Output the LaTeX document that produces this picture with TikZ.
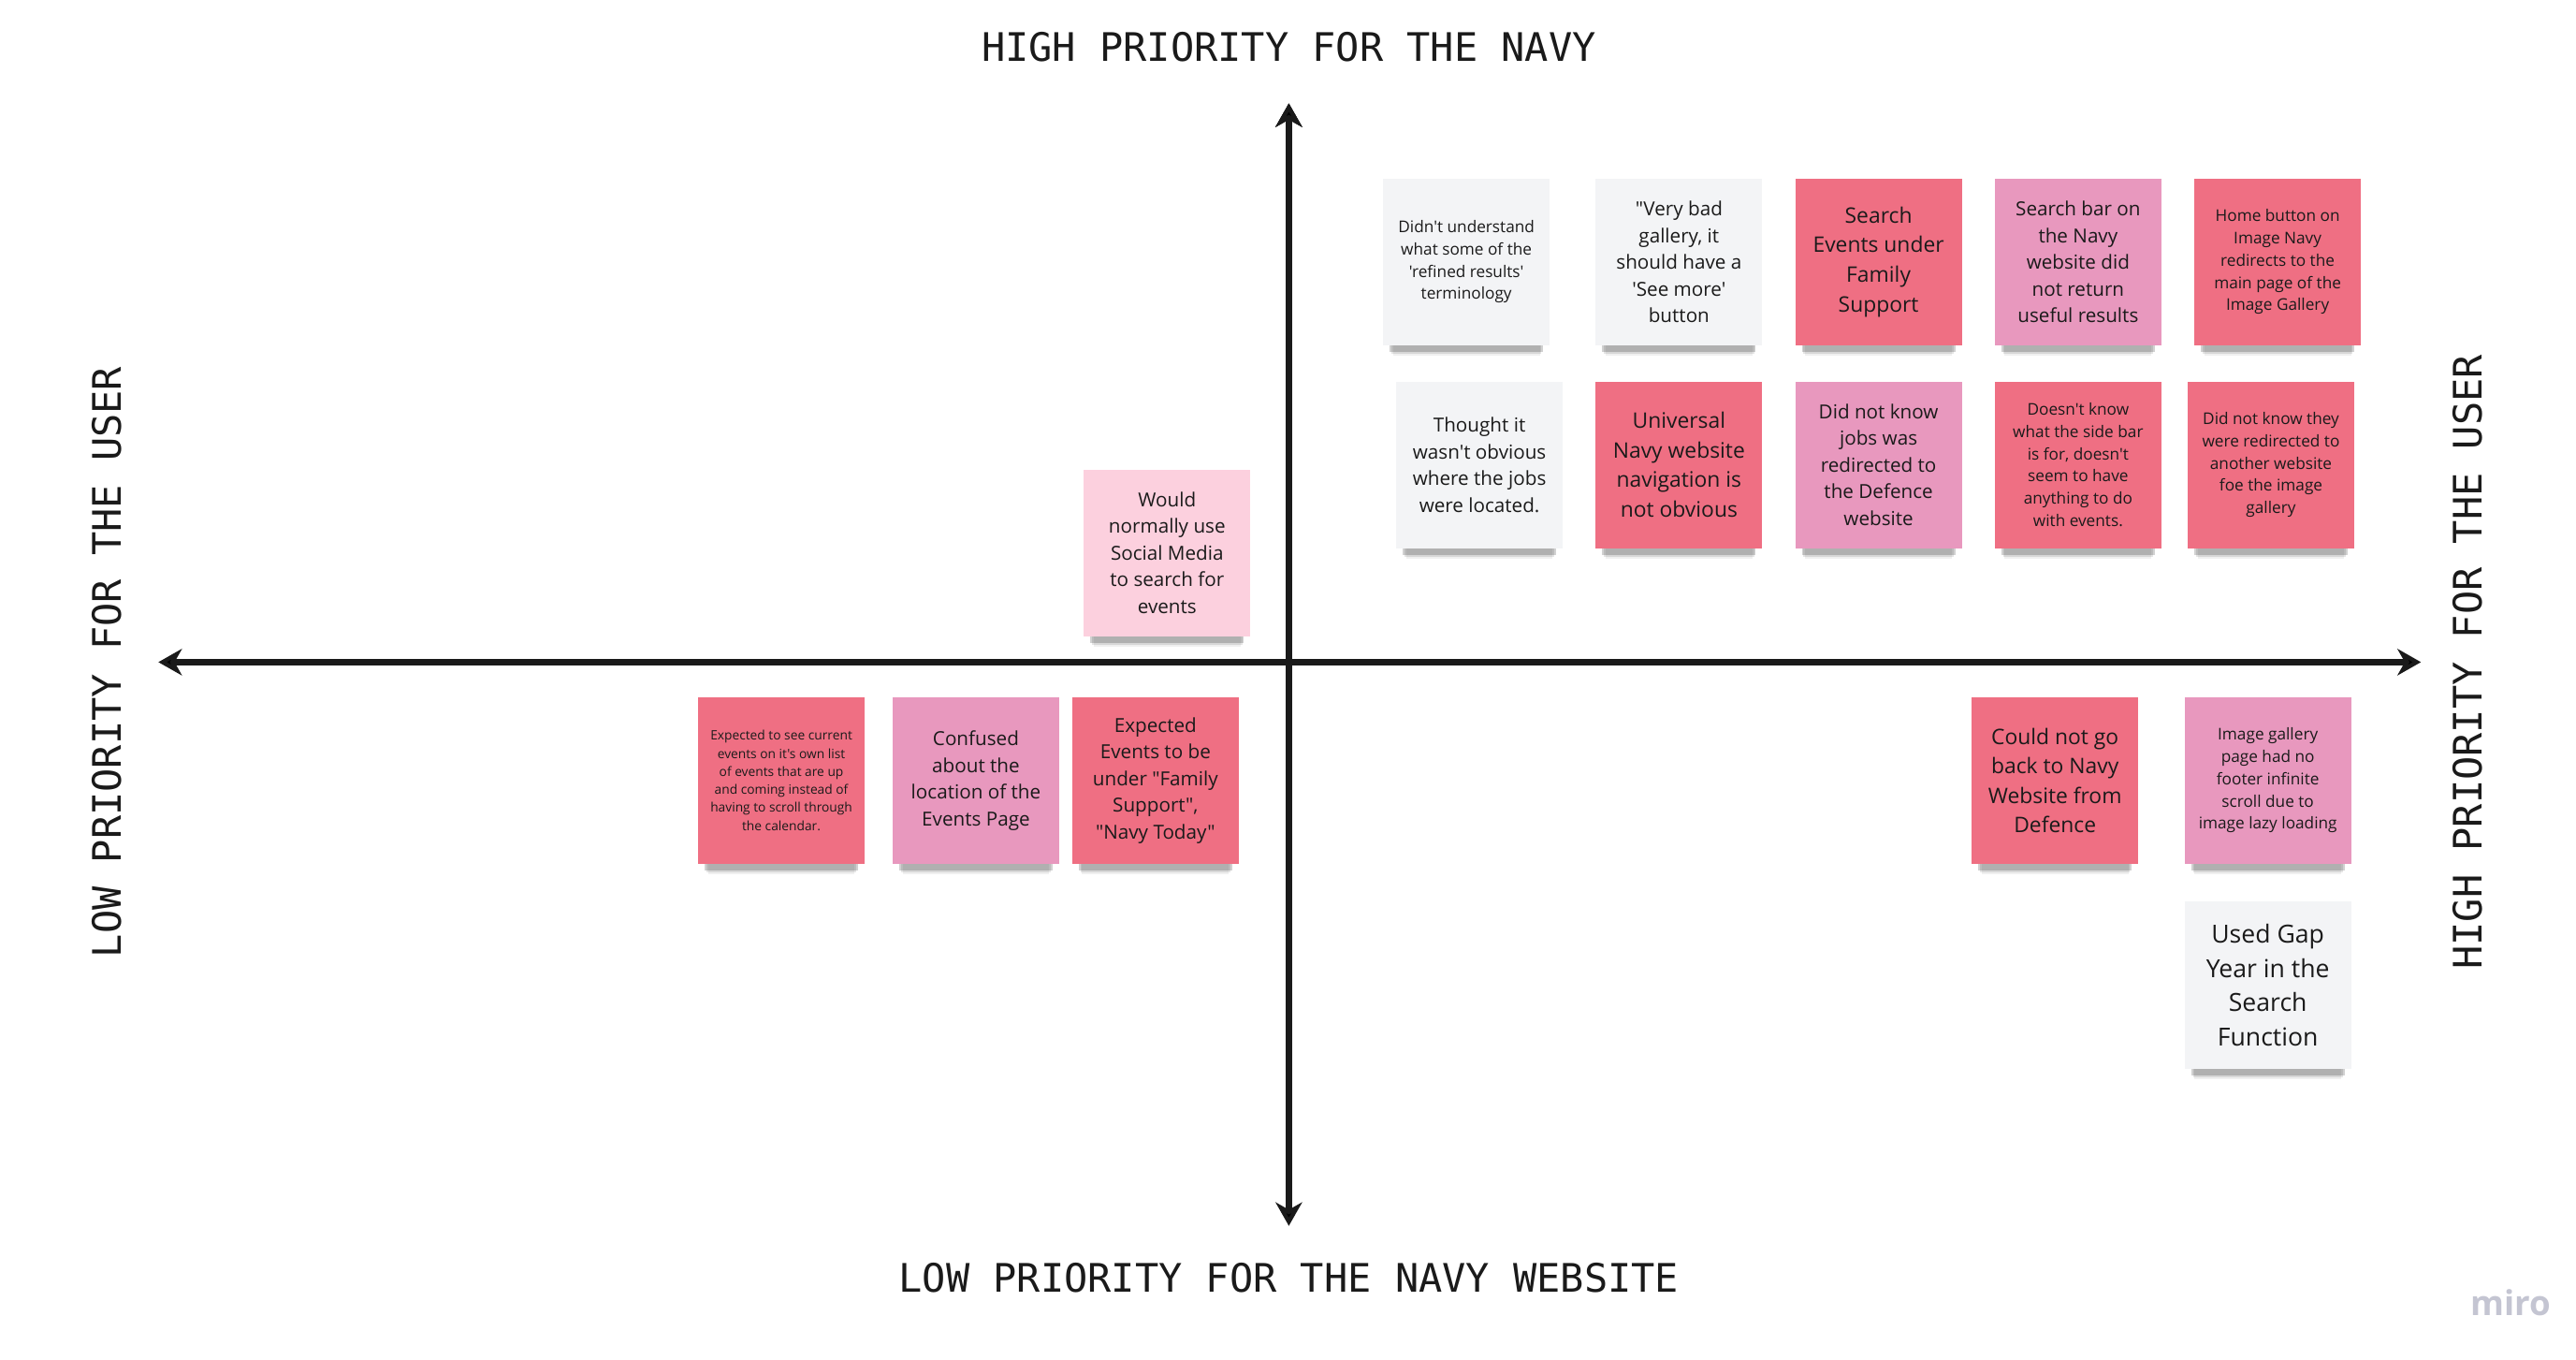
\documentclass[tikz,border=0pt]{standalone}
\usepackage{fontspec}
\setmainfont{Open Sans}[Ligatures=TeXOff]
\newfontfamily\axisfont{DejaVu Sans Mono}
\usetikzlibrary{arrows.meta,positioning,shadows}

\definecolor{ink}{RGB}{26,26,26}
\definecolor{hotnote}{RGB}{239,111,131}
\definecolor{rosenote}{RGB}{232,152,190}
\definecolor{blushnote}{RGB}{252,208,222}
\definecolor{blanknote}{RGB}{243,244,246}
\definecolor{mirogray}{RGB}{196,197,210}

\tikzset{
  note/.style={rectangle, minimum width=2cm, minimum height=2cm, inner sep=1pt,
    align=center, text=ink,
    drop shadow={shadow xshift=0pt, shadow yshift=-8pt, shadow scale=0.88, opacity=0.06, fill=black},
    drop shadow={shadow xshift=0pt, shadow yshift=-6.5pt, shadow scale=0.9, opacity=0.1, fill=black},
    drop shadow={shadow xshift=0pt, shadow yshift=-5pt, shadow scale=0.92, opacity=0.18, fill=black}},
  hot/.style={note, fill=hotnote},
  rose/.style={note, fill=rosenote},
  blush/.style={note, fill=blushnote},
  blank/.style={note, fill=blanknote},
  fsXL/.style={font=\fontsize{8.5}{11.8}\selectfont},
  fsL/.style={font=\fontsize{7.3}{10.1}\selectfont},
  fsM/.style={font=\fontsize{6.6}{9.1}\selectfont},
  fsS/.style={font=\fontsize{5.5}{7.6}\selectfont},
  fsXS/.style={font=\fontsize{4.4}{6.15}\selectfont},
  axislabel/.style={font=\axisfont\fontsize{13.4}{16}\selectfont, text=ink},
  axisline/.style={line width=2.4pt, draw=ink}
}

\begin{document}
\begin{tikzpicture}[x=0.02cm, y=-0.02cm, >={Stealth[length=8pt,width=9pt,inset=2.5pt]}, node distance=0.38cm]
  \useasboundingbox[fill=white] (0,0) rectangle (1545,815);

  \coordinate (west)  at (95,397);
  \coordinate (east)  at (1452,397);
  \coordinate (north) at (773,62);
  \coordinate (south) at (773,735);

  \node[axislabel]            (navyhigh) at (773,28)  {HIGH PRIORITY FOR THE NAVY};
  \node[axislabel]            (navylow)  at (773,766) {LOW PRIORITY FOR THE NAVY WEBSITE};
  \node[axislabel, rotate=90] (userlow)  at (64,397)  {LOW PRIORITY FOR THE USER};
  \node[axislabel, rotate=90] (userhigh) at (1480,397) {HIGH PRIORITY FOR THE USER};

  \node[blank, fsS]  (terms)   at (879.5,157)           {Didn't understand\\what some of the\\'refined results'\\terminology};
  \node[blank, fsM]  (gallery) at (1007,157)            {"Very bad\\gallery, it\\should have a\\'See more'\\button};
  \node[hot, fsL]    (family)  [right=of gallery]       {Search\\Events under\\Family\\Support};
  \node[rose, fsM]   (search)  [right=of family]        {Search bar on\\the Navy\\website did\\not return\\useful results};
  \node[hot, fsS]    (home)    [right=of search]        {Home button on\\Image Navy\\redirects to the\\main page of the\\Image Gallery};

  \node[hot, fsL]    (navig)   [below=0.42cm of gallery] {Universal\\Navy website\\navigation is\\not obvious};
  \node[blank, fsM]  (jobs)    [left=of navig]          {Thought it\\wasn't obvious\\where the jobs\\were located.};
  \node[rose, fsM]   (defence) [right=of navig]         {Did not know\\jobs was\\redirected to\\the Defence\\website};
  \node[hot, fsS]    (sidebar) [right=of defence]       {Doesn't know\\what the side bar\\is for, doesn't\\seem to have\\anything to do\\with events.};
  \node[hot, fsS]    (another) [right=0.3cm of sidebar] {Did not know they\\were redirected to\\another website\\foe the image\\gallery};

  \node[blush, fsM]  (social)  at (700,331.5)           {Would\\normally use\\Social Media\\to search for\\events};

  \node[hot, fsM]    (under)   at (693,468)             {Expected\\Events to be\\under "Family\\Support",\\"Navy Today"};
  \node[rose, fsM]   (confused) [left=0.14cm of under]  {Confused\\about the\\location of the\\Events Page};
  \node[hot, fsXS]   (current) [left=0.32cm of confused] {Expected to see current\\events on it's own list\\of events that are up\\and coming instead of\\having to scroll through\\the calendar.};

  \node[hot, fsL]    (goback)  at (1232.5,468)          {Could not go\\back to Navy\\Website from\\Defence};
  \node[rose, fsS]   (lazy)    [right=0.54cm of goback] {Image gallery\\page had no\\footer infinite\\scroll due to\\image lazy loading};
  \node[blank, fsXL] (gapyear) [below=0.44cm of lazy]   {Used Gap\\Year in the\\Search\\Function};

  \node[text=mirogray, font=\bfseries\fontsize{11.7}{14}\selectfont] (miro) at (1506,781) {miro};

  \path[<->, axisline]
  (west) edge (east)
  (north) edge (south);
\end{tikzpicture}
\end{document}
